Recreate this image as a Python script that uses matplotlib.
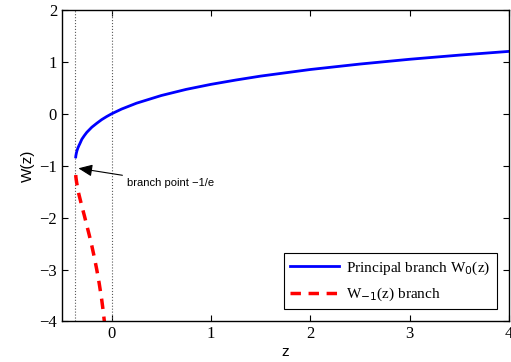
import numpy as np
import matplotlib
matplotlib.use("Agg")
import matplotlib.pyplot as plt

# values
z_principal = [-0.3615, -0.36, -0.355, -0.35, -0.34, -0.33, -0.32, -0.3, -0.275, -0.25,
               -0.2, -0.15, -0.1, -0.05, 0.0, 0.1, 0.25, 0.5, 0.75, 1.0, 1.25, 1.5,
               2.0, 2.5, 3.0, 3.5, 4.0]
w_principal = [-0.83, -0.805, -0.757, -0.717, -0.66, -0.615, -0.575, -0.49, -0.42, -0.357,
               -0.259, -0.183, -0.112, -0.053, 0.0, 0.091, 0.204, 0.352, 0.470, 0.567, 0.650, 0.726,
               0.853, 0.958, 1.050, 1.130, 1.202]

z_lower = [-0.3615, -0.36, -0.355, -0.35, -0.34, -0.33, -0.3, -0.275, -0.25, -0.225,
           -0.2, -0.175, -0.15, -0.125, -0.1, -0.085, -0.0733]
w_lower = [-1.18, -1.22, -1.29, -1.35, -1.46, -1.55, -1.78, -1.96, -2.15, -2.34,
           -2.54, -2.76, -3.00, -3.27, -3.58, -3.80, -4.00]

branch_z = -0.3679
x_ticks = [0, 1, 2, 3, 4]
y_ticks = [-4, -3, -2, -1, 0, 1, 2]

fig = plt.figure(figsize=(5.11, 3.62), dpi=100)
ax = fig.add_axes([0.1213, 0.112, 0.8747, 0.8605])

ax.axvline(branch_z, color='0.35', linestyle=':', linewidth=0.8)
ax.axvline(0, color='0.35', linestyle=':', linewidth=0.8)

ax.plot(z_principal, w_principal, color='#0000ff', linewidth=2, label=r'Principal branch W$_0$(z)')
ax.plot(z_lower, w_lower, color='#ff0000', linewidth=2.5, linestyle=(0, (3, 2.2)),
        label=r'W$_{-1}$(z) branch')

ax.annotate('branch point \u22121/e', xy=(-0.335, -1.05), xytext=(0.15, -1.33),
            fontsize=8, fontfamily='Liberation Sans', va='center',
            arrowprops=dict(arrowstyle='-|>,head_length=0.7,head_width=0.3', color='black',
                            lw=0.8, mutation_scale=12, shrinkA=1, shrinkB=0))

ax.set_xlim(-0.5, 4)
ax.set_ylim(-4, 2)
ax.set_xticks(x_ticks)
ax.set_yticks(y_ticks)
ax.set_xticklabels([str(v) for v in x_ticks], fontfamily='Liberation Serif', fontsize=12)
ax.set_yticklabels([str(v).replace('-', '\u2212') for v in y_ticks], fontfamily='Liberation Serif', fontsize=12)
ax.tick_params(direction='in', top=True, right=True, length=4, width=0.8)
for s in ax.spines.values():
    s.set_linewidth(1.0)

ax.set_xlabel('z', fontfamily='Liberation Sans', fontsize=11, labelpad=2)
ax.set_ylabel('W(z)', fontfamily='Liberation Sans', fontsize=11, labelpad=3)

leg = ax.legend(loc='lower right', prop={'family': 'Liberation Serif', 'size': 11},
                fancybox=False, edgecolor='black', framealpha=1, handlelength=3.2,
                handletextpad=0.5, borderaxespad=0.8, labelspacing=0.6)
leg.get_frame().set_linewidth(0.8)

fig.savefig('out.png', dpi=100)
